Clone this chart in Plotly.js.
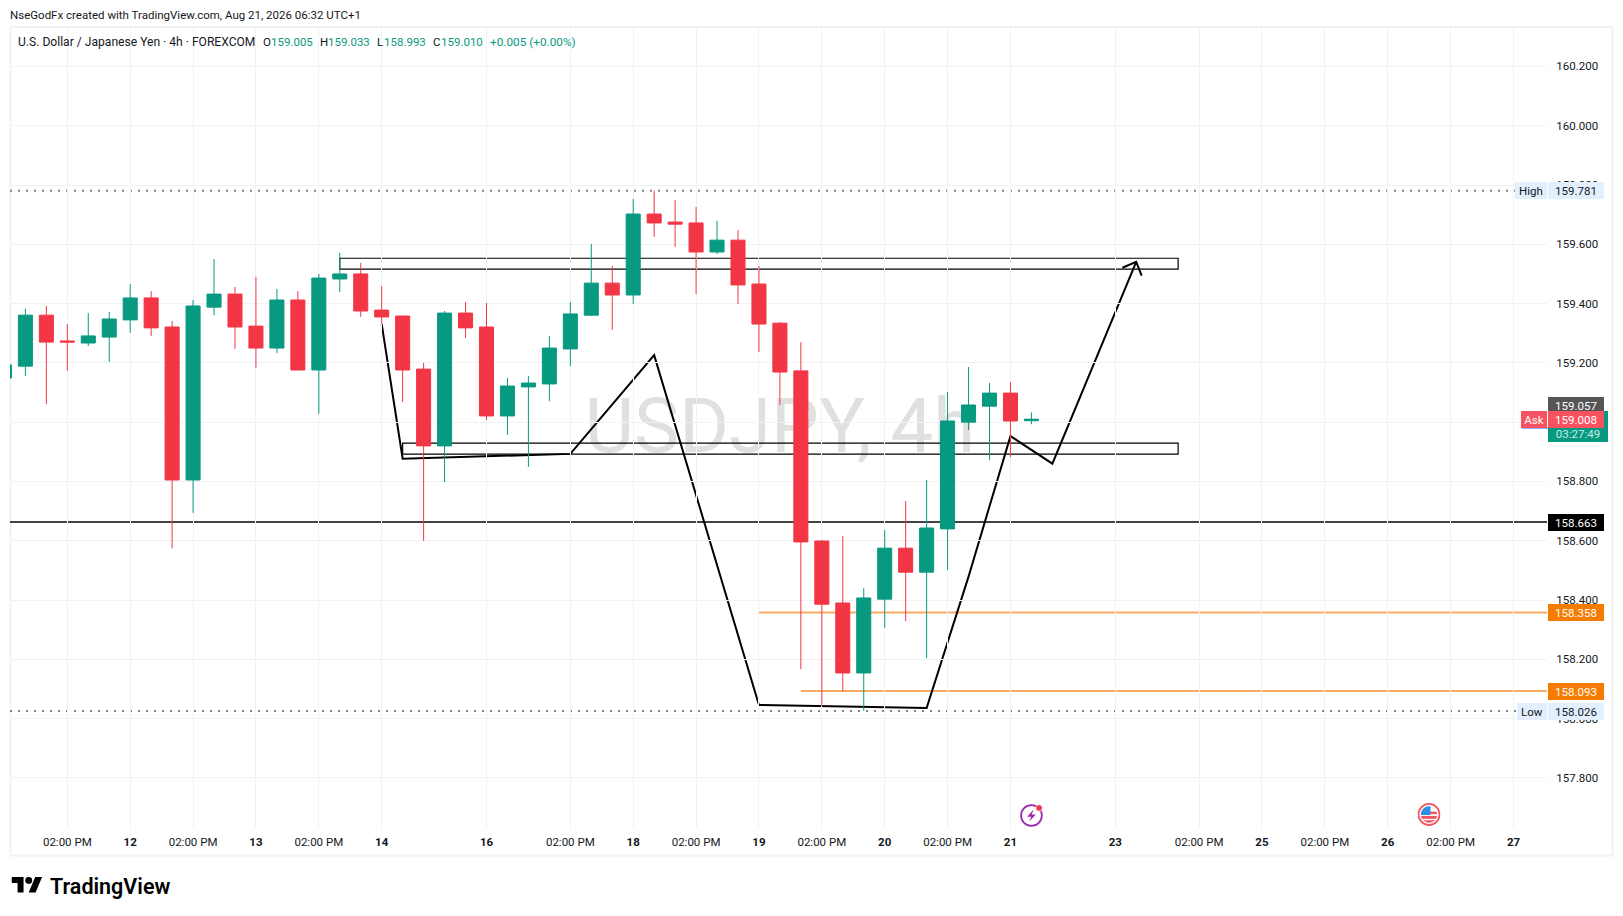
<!DOCTYPE html>
<html><head><meta charset="utf-8">
<script src="https://cdn.plot.ly/plotly-3.0.1.min.js"></script>
<style>html,body{margin:0;padding:0;background:#fff}#c{width:1623px;height:916px}</style>
</head><body><div id="c"></div>
<script>
// Candle data (bar index, 4h bars)
const barIndex = [-1,0,1,2,3,4,5,6,7,8,9,10,11,12,13,14,15,16,17,18,19,20,21,22,23,24,25,26,27,28,29,30,31,32,33,34,35,36,37,38,39,40,41,42,43,44,45,46,47,48];
const opens  = [159.149,159.189,159.361,159.274,159.267,159.287,159.345,159.419,159.321,158.805,159.388,159.432,159.324,159.250,159.412,159.176,159.483,159.500,159.378,159.358,159.179,158.920,159.368,159.321,159.021,159.119,159.129,159.247,159.361,159.469,159.429,159.702,159.675,159.672,159.574,159.614,159.466,159.334,159.173,158.599,158.390,158.154,158.403,158.575,158.494,158.640,159.000,159.054,159.098,159.005];
const highs  = [159.193,159.382,159.392,159.331,159.368,159.372,159.466,159.442,159.341,159.412,159.550,159.456,159.490,159.449,159.442,159.500,159.571,159.537,159.459,159.358,159.200,159.375,159.405,159.402,159.149,159.156,159.291,159.405,159.601,159.527,159.753,159.781,159.749,159.726,159.679,159.648,159.527,159.338,159.270,158.602,158.616,158.440,158.636,158.734,158.805,159.102,159.186,159.132,159.135,159.033];
const lows   = [159.149,159.156,159.061,159.173,159.257,159.203,159.301,159.291,158.574,158.694,159.361,159.247,159.183,159.233,159.176,159.028,159.439,159.355,159.331,159.068,158.599,158.798,159.284,159.007,158.957,158.849,159.071,159.189,159.358,159.311,159.399,159.625,159.591,159.432,159.567,159.399,159.237,159.058,158.167,158.042,158.093,158.026,158.306,158.329,158.204,158.501,158.974,158.872,158.882,158.993];
const closes = [159.193,159.361,159.270,159.270,159.291,159.348,159.419,159.318,158.805,159.392,159.432,159.321,159.250,159.412,159.176,159.486,159.500,159.375,159.355,159.176,158.920,159.368,159.318,159.021,159.122,159.132,159.250,159.365,159.469,159.429,159.702,159.672,159.668,159.574,159.614,159.463,159.331,159.169,158.596,158.386,158.154,158.407,158.575,158.494,158.643,159.004,159.058,159.098,159.004,159.010];

// Axis ticks
const xTickVals = [2,5,8,11,14,17,22,26,29,32,35,38,41,44,47,52,56,59,62,65,68,71];
const xTickText = ['02:00 PM','<b>12</b>','02:00 PM','<b>13</b>','02:00 PM','<b>14</b>','<b>16</b>','02:00 PM','<b>18</b>','02:00 PM','<b>19</b>','02:00 PM','<b>20</b>','02:00 PM','<b>21</b>','<b>23</b>','02:00 PM','<b>25</b>','02:00 PM','<b>26</b>','02:00 PM','<b>27</b>'];
const yTickVals = [157.8,158,158.2,158.4,158.6,158.8,159,159.2,159.4,159.6,159.8,160,160.2];

// Hand-drawn path
const pathX = [17,18,26,30,35,43,45,47,49,53];
const pathY = [159.331,158.877,158.893,159.226,158.046,158.036,158.479,158.953,158.860,159.541];
const arrowX = [52.34,53,53.26];
const arrowY = [159.521,159.541,159.494];
// Zones
const zoneUpper = {x:[15,55], y:[159.516,159.553]};
const zoneLower = {x:[18,55], y:[158.892,158.929]};
// Price levels
const highLevel = 159.781, lowLevel = 158.026, blackLevel = 158.663;
const orangeLevels = [158.358,158.093], orangeStarts = [35,37];
const lastAsk = 159.008, lastBid = 159.057;

const L=10,R=1547,T=27,B=828,W=1623,H=916;
const px = v => (v-L)/(R-L), py = v => (B-v)/(B-T);
const FONT = 'Roboto, sans-serif', INK='#131722', UP='#089981', DOWN='#F23645';
const GRID='#f1f2f4';

const pathStr=(xs,ys)=>xs.map((x,i)=>(i?'L':'M')+x+' '+ys[i]).join(' ');
const shapes=[];
// outer frame (under everything else)
shapes.push({type:'rect',layer:'below',xref:'paper',yref:'paper',x0:px(10.5),x1:px(1612.5),y0:py(855.5),y1:py(27),line:{color:'#f1f2f4',width:2},fillcolor:'rgba(0,0,0,0)'});
// watermark (below candles)
shapes.push({type:'rect',layer:'below',xref:'paper',yref:'paper',x0:px(580),x1:px(980),y0:py(381),y1:py(461),line:{width:0},fillcolor:'rgba(0,0,0,0)',
  label:{text:'USDJPY, 4h',textposition:'middle center',font:{family:FONT,size:76,color:'#e0e0e0'}}});
const lev=(y,x0,x1,color,w,dash)=>shapes.push({type:'line',layer:'below',xref:'x',yref:'y',x0,x1,y0:y,y1:y,line:{color,width:w,dash:dash||'solid'}});
lev(highLevel,-0.735,74,'#7f828c',2,'2px,6px');
lev(lowLevel,-0.735,74,'#7f828c',2,'2px,6px');
lev(blackLevel,-2,74,'#434343',2);
orangeLevels.forEach((y,i)=>lev(y,orangeStarts[i],74,'#f9ab62',2));
[zoneUpper,zoneLower].forEach(z=>shapes.push({type:'rect',layer:'below',xref:'x',yref:'y',x0:z.x[0],x1:z.x[1],y0:z.y[0],y1:z.y[1],line:{color:'#000',width:1.2},fillcolor:'rgba(0,0,0,0)'}));
shapes.push({type:'path',layer:'below',xref:'x',yref:'y',path:pathStr(pathX,pathY),line:{color:'#000',width:2}});
shapes.push({type:'path',layer:'below',xref:'x',yref:'y',path:pathStr(arrowX,arrowY),line:{color:'#000',width:2}});
const anns=[];
const txt=(x,y,text,color,size,weight,anchor)=>anns.push({xref:'paper',yref:'paper',x:px(x),y:py(y),xanchor:anchor||'left',yanchor:'middle',showarrow:false,text,font:{family:FONT,size:size||11.5,color:color||INK,weight:weight||400}});
txt(8,15,'NseGodFx created with TradingView.com, Aug 21, 2026 06:32 UTC+1',INK,11.5);
txt(16,41.7,'U.S. Dollar / Japanese Yen · 4h · FOREXCOM',INK,12.1);
[[261,'O',269,'159.005'],[317.5,'H',326,'159.033'],[374.5,'L',382,'158.993'],[431,'C',439,'159.010']].forEach(a=>{txt(a[0],41.7,a[1]);txt(a[2],41.7,a[3],UP);});
txt(488,41.7,'+0.005 (+0.00%)',UP,11.8);
txt(48,886,'TradingView','#000',21.5,600);

const box=(x0,x1,y0,y1,text,bg,color)=>anns.push({xref:'paper',yref:'paper',x:px(x0),y:py(y0),xanchor:'left',yanchor:'top',width:x1-x0,height:y1-y0,borderpad:0,borderwidth:0,showarrow:false,align:'center',valign:'middle',text,bgcolor:bg,font:{family:FONT,size:11.5,color}});
box(1515,1547,182,199,'High','#e3effd',INK);
box(1548,1604,182,199,String(highLevel),'#e3effd',INK);
box(1548,1608,411,442,'','#089981','#fff');
box(1548,1604,397,414,String(lastBid),'#555555','#fff');
box(1548,1604,411,428,String(lastAsk),'#f7525f','#fff');
box(1521,1547,411,428,'Ask','#f7525f','#fff');
box(1548,1608,425,442,'03:27:49','rgba(0,0,0,0)','#c9ece4');
box(1548,1604,514,531,String(blackLevel),'#000','#fff');
box(1548,1604,604,621,String(orangeLevels[0]),'#f57c00','#fff');
box(1548,1604,683,700,String(orangeLevels[1]),'#f57c00','#fff');
box(1517,1547,703,720,'Low','#e3effd',INK);
box(1548,1604,703,720,String(lowLevel),'#e3effd',INK);
shapes.push({type:'line',layer:'above',xref:'paper',yref:'paper',x0:px(1522),x1:px(1604),y0:py(428),y1:py(428),line:{color:'#2962ff',width:1}});

const svg=s=>'data:image/svg+xml;utf8,'+encodeURIComponent(s);
const tvLogo=svg('<svg xmlns="http://www.w3.org/2000/svg" viewBox="0 0 36 28"><path d="M14 25H7V14H0V7h14v18zM28 25h-8l7.5-18h8L28 25z" fill="#000"/><circle cx="20" cy="11" r="4" fill="#000"/></svg>');
const bolt=svg('<svg xmlns="http://www.w3.org/2000/svg" viewBox="0 0 24 24"><circle cx="11.5" cy="12.5" r="9.6" fill="#fff" stroke="#9c27b0" stroke-width="1.6"/><path d="M13.5 7 7.5 13.5h3.8L9.5 18l6-6.5h-3.8z" fill="#9c27b0"/><circle cx="18.5" cy="5.5" r="3" fill="#f23645" stroke="#fff" stroke-width=".6"/></svg>');
const flag=svg('<svg xmlns="http://www.w3.org/2000/svg" viewBox="0 0 24 24"><defs><clipPath id="k"><circle cx="12" cy="12" r="8.6"/></clipPath></defs><circle cx="12" cy="12" r="11" fill="#fff" stroke="#f7525f" stroke-width="1.8"/><g clip-path="url(#k)"><rect x="2" y="2" width="20" height="20" fill="#fff"/><rect x="2" y="13.5" width="20" height="3" fill="#f7525f"/><rect x="2" y="18" width="20" height="4" fill="#f7525f"/><rect x="2" y="9" width="20" height="2.6" fill="#f7525f"/><rect x="2" y="2" width="11.5" height="10.5" fill="#2f8fe8"/></g></svg>');
const img=(src,x,y,w,h)=>({source:src,xref:'paper',yref:'paper',x:px(x),y:py(y),sizex:w/(R-L),sizey:h/(B-T),xanchor:'left',yanchor:'top',sizing:'stretch',layer:'above'});
const images=[img(tvLogo,11.5,871,31,24),img(bolt,1019,802,26,26),img(flag,1417.5,803,23,23)];

const candle={type:'candlestick',x:barIndex,open:opens,high:highs,low:lows,close:closes,whiskerwidth:0,
  increasing:{line:{color:UP,width:1},fillcolor:UP},decreasing:{line:{color:DOWN,width:1},fillcolor:DOWN},hoverinfo:'skip',showlegend:false};

Plotly.newPlot('c',[candle],{
  width:W,height:H,showlegend:false,paper_bgcolor:'#fff',plot_bgcolor:'#fff',
  margin:{l:L,r:W-R,t:T,b:H-B,pad:0},boxgap:0.33,boxgroupgap:0,
  xaxis:{type:'linear',range:[-0.735,72.6],tickmode:'array',tickvals:xTickVals,ticktext:xTickText,showgrid:true,gridcolor:GRID,gridwidth:1,zeroline:false,showline:false,ticks:'outside',ticklen:3,tickcolor:'rgba(0,0,0,0)',tickfont:{family:FONT,size:11.5,color:INK},rangeslider:{visible:false},fixedrange:true},
  yaxis:{side:'right',range:[157.631,160.333],tickmode:'array',tickvals:yTickVals,ticktext:yTickVals.map(v=>v.toFixed(3)),showgrid:true,gridcolor:GRID,gridwidth:1,zeroline:false,showline:false,ticks:'outside',ticklen:6,tickcolor:'rgba(0,0,0,0)',tickfont:{family:FONT,size:11.5,color:INK},fixedrange:true},
  shapes,annotations:anns,images
},{displayModeBar:false,staticPlot:true});
</script></body></html>
